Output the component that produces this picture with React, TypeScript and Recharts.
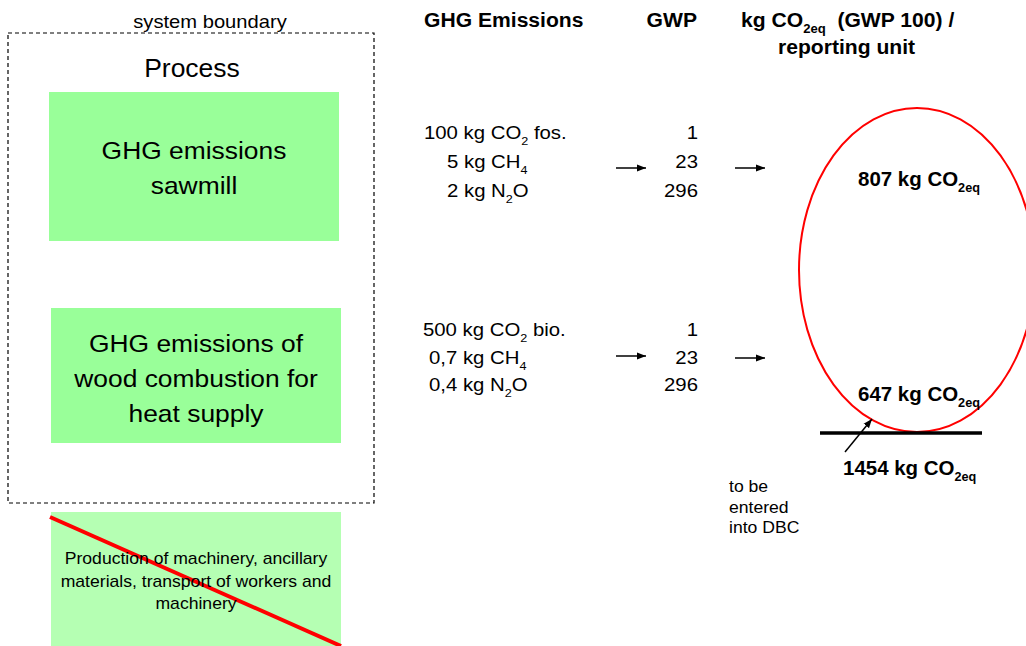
import React from 'react';
import {
  ComposedChart,
  XAxis,
  YAxis,
  ReferenceArea,
  ReferenceLine,
  Scatter,
} from 'recharts';

// diagram is drawn on a 1026 x 646 number grid (y runs top -> bottom)
const WIDTH = 1026;
const HEIGHT = 646;

const PROCESS_BOXES = [
  ['GHG emissions', 'sawmill'],
  ['GHG emissions of', 'wood combustion for', 'heat supply'],
];
const EXCLUDED_BOX = ['Production of machinery, ancillary', 'materials, transport of workers and', 'machinery'];
const HEADERS = ['GHG Emissions', 'GWP', 'kg CO_{2eq}  (GWP 100) /', 'reporting unit'];
const SAWMILL_EMISSIONS = ['100 kg CO_{2} fos.', '5 kg CH_{4}', '2 kg N_{2}O'];
const HEAT_EMISSIONS = ['500 kg CO_{2} bio.', '0,7 kg CH_{4}', '0,4 kg N_{2}O'];
const GWP_FACTORS = ['1', '23', '296'];
const RESULTS = ['807 kg CO_{2eq}', '647 kg CO_{2eq}', '1454 kg CO_{2eq}'];
const NOTE = ['to be', 'entered', 'into DBC'];

type Kind = 'caption' | 'title' | 'box' | 'small' | 'head' | 'row' | 'result' | 'note';

const STYLES: Record<Kind, { size: number; weight: number; sx: number }> = {
  caption: { size: 18, weight: 400, sx: 1.12 },
  title: { size: 25, weight: 400, sx: 1.06 },
  box: { size: 24, weight: 400, sx: 1.1 },
  small: { size: 16, weight: 400, sx: 1.1 },
  head: { size: 20.5, weight: 700, sx: 1.03 },
  row: { size: 18.5, weight: 400, sx: 1.1 },
  result: { size: 19.5, weight: 700, sx: 1.05 },
  note: { size: 16, weight: 400, sx: 1.1 },
};

interface Label {
  x: number;
  y: number;
  text: string;
  kind: Kind;
  anchor: 'start' | 'middle' | 'end';
}

const lines = (texts: string[], x: number, ys: number[], kind: Kind, anchor: Label['anchor']): Label[] =>
  texts.map((text, i) => ({ x, y: ys[i], text, kind, anchor }));

const LABELS: Label[] = [
  { x: 210, y: 28, text: 'system boundary', kind: 'caption', anchor: 'middle' },
  { x: 192, y: 77, text: 'Process', kind: 'title', anchor: 'middle' },
  ...lines(PROCESS_BOXES[0], 194, [159, 194], 'box', 'middle'),
  ...lines(PROCESS_BOXES[1], 196, [352, 387, 422], 'box', 'middle'),
  ...lines(EXCLUDED_BOX, 196, [564, 587, 609], 'small', 'middle'),
  { x: 424, y: 27, text: HEADERS[0], kind: 'head', anchor: 'start' },
  { x: 697, y: 27, text: HEADERS[1], kind: 'head', anchor: 'end' },
  { x: 741, y: 27, text: HEADERS[2], kind: 'head', anchor: 'start' },
  { x: 778, y: 54, text: HEADERS[3], kind: 'head', anchor: 'start' },
  { x: 424, y: 139, text: SAWMILL_EMISSIONS[0], kind: 'row', anchor: 'start' },
  ...lines(SAWMILL_EMISSIONS.slice(1), 447, [168, 197], 'row', 'start'),
  { x: 423, y: 336, text: HEAT_EMISSIONS[0], kind: 'row', anchor: 'start' },
  ...lines(HEAT_EMISSIONS.slice(1), 429, [364, 391], 'row', 'start'),
  ...lines(GWP_FACTORS, 698, [139, 168, 197], 'row', 'end'),
  ...lines(GWP_FACTORS, 698, [336, 364, 391], 'row', 'end'),
  { x: 858, y: 186, text: RESULTS[0], kind: 'result', anchor: 'start' },
  { x: 858, y: 401, text: RESULTS[1], kind: 'result', anchor: 'start' },
  { x: 843, y: 475, text: RESULTS[2], kind: 'result', anchor: 'start' },
  ...lines(NOTE, 729, [492, 513, 533], 'note', 'start'),
];

// arrows: [x1, y1, x2, y2]
const ARROWS = [
  [616, 168, 646, 168],
  [735, 168, 765, 168],
  [616, 356, 646, 356],
  [735, 358, 765, 358],
  [845, 452, 872, 419],
];

function RichText(props: any) {
  const { cx, cy, payload } = props;
  const label = payload as Label;
  const st = STYLES[label.kind];
  const parts = label.text.split(/(_\{[^}]*\})/).filter(Boolean);
  const shift = st.size * 0.3;
  let down = false;
  return (
    <text
      transform={`translate(${cx},${cy}) scale(${st.sx},1)`}
      x={0}
      y={0}
      textAnchor={label.anchor}
      fontSize={st.size}
      fontWeight={st.weight}
      fontFamily="'Liberation Sans', Arial, sans-serif"
      fill="#000"
      style={{ whiteSpace: 'pre' }}
    >
      {parts.map((p, i) => {
        if (p.startsWith('_{')) {
          down = true;
          return (
            <tspan key={i} fontSize={st.size * 0.62} dy={shift}>
              {p.slice(2, -1)}
            </tspan>
          );
        }
        const dy = down ? -shift : 0;
        down = false;
        return (
          <tspan key={i} dy={dy}>
            {p}
          </tspan>
        );
      })}
    </text>
  );
}

const Ellipse = (p: any) => (
  <ellipse
    cx={p.x + p.width / 2}
    cy={p.y + p.height / 2}
    rx={p.width / 2}
    ry={p.height / 2}
    fill="none"
    stroke="#ff0000"
    strokeWidth={2}
  />
);

const ArrowLine = (p: any) => (
  <line x1={p.x1} y1={p.y1} x2={p.x2} y2={p.y2} stroke="#000" strokeWidth={1.5} markerEnd="url(#arrowHead)" />
);

export default function App() {
  return (
    <div style={{ position: 'absolute', left: 0, top: 0, background: '#fff' }}>
      <ComposedChart width={WIDTH} height={HEIGHT} margin={{ top: 0, right: 0, bottom: 0, left: 0 }}>
        <defs>
          <marker id="arrowHead" markerUnits="userSpaceOnUse" markerWidth={10} markerHeight={8} refX={9} refY={4} orient="auto">
            <path d="M0,0.5 L9,4 L0,7.5 z" fill="#000" />
          </marker>
        </defs>
        <XAxis type="number" dataKey="x" domain={[0, WIDTH]} hide allowDataOverflow />
        <YAxis type="number" dataKey="y" domain={[0, HEIGHT]} reversed hide allowDataOverflow />

        {/* system boundary */}
        <ReferenceArea x1={8} x2={374} y1={33} y2={503} fill="none" fillOpacity={0} stroke="#000" strokeWidth={1.2} strokeDasharray="4 3" ifOverflow="visible" />

        {/* process boxes */}
        <ReferenceArea x1={49} x2={339} y1={92} y2={241} fill="#99ff99" fillOpacity={1} ifOverflow="visible" />
        <ReferenceArea x1={51} x2={341} y1={308} y2={443} fill="#99ff99" fillOpacity={1} ifOverflow="visible" />
        <ReferenceArea x1={51} x2={341} y1={512} y2={646} fill="#b5ffb3" fillOpacity={1} ifOverflow="visible" />

        {/* result ellipse and sum line */}
        <ReferenceArea x1={799} x2={1035} y1={108} y2={432} ifOverflow="visible" shape={Ellipse} />
        <ReferenceLine segment={[{ x: 820, y: 433 }, { x: 982, y: 433 }]} stroke="#000" strokeWidth={3.5} ifOverflow="visible" />

        {ARROWS.map((a, i) => (
          <ReferenceLine key={i} segment={[{ x: a[0], y: a[1] }, { x: a[2], y: a[3] }]} ifOverflow="visible" shape={ArrowLine} />
        ))}

        <Scatter data={LABELS} shape={RichText} isAnimationActive={false} />

        {/* crossed-out box */}
        <ReferenceLine segment={[{ x: 50, y: 517 }, { x: 341, y: 646 }]} stroke="#ff0000" strokeWidth={4} ifOverflow="visible" />
      </ComposedChart>
    </div>
  );
}
